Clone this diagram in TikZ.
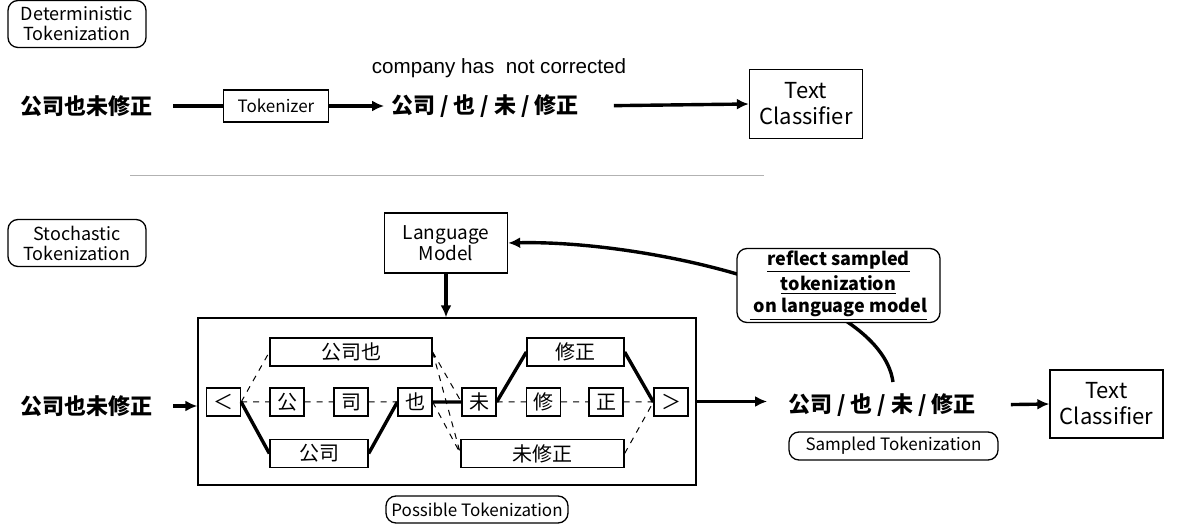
\documentclass[tikz,border=0pt]{standalone}
\usepackage{fontspec}
\setmainfont{Noto Sans CJK JP}
\newfontfamily\glossfont{Liberation Sans}
\usetikzlibrary{positioning,arrows.meta}

\tikzset{
  >={Latex[length=6pt,width=5.5pt]},
  tag/.style={draw, line width=0.65pt, rounded corners=5pt, align=center, inner sep=0pt, font=\fontsize{9}{10}\selectfont},
  box/.style={draw, line width=0.65pt, align=center, inner sep=0pt},
  ch/.style={draw, line width=0.65pt, inner sep=0pt, minimum height=14pt, font=\fontsize{10}{12}\selectfont},
  seq/.style={font=\bfseries\fontsize{11}{13}\selectfont},
  flow/.style={line width=1.7pt},
  best/.style={line width=1.7pt},
  alt/.style={dashed, line width=0.5pt},
}

\begin{document}
\begin{tikzpicture}[x=0.5pt,y=-0.5pt]
    \useasboundingbox (0,0) rectangle (1181,528);

    % fixed split
    \node[tag, minimum width=69pt, minimum height=23.5pt] (det) at (77,24) {Deterministic\\Tokenization};
    \node[seq] (src1) at (86,106) {公司也未修正};
    \node[box, minimum width=52.5pt, minimum height=16pt, font=\fontsize{8.5}{10}\selectfont] (tkz) at (276,106) {Tokenizer};
    \node[seq] (out1) at (485,106) {公司 / 也 / 未 / 修正};
    \node[font=\glossfont\fontsize{10.3}{12}\selectfont] (gloss) at (499,68) {company has\ \ not corrected};
    \node[box, minimum width=56.5pt, minimum height=34.5pt, font=\fontsize{11}{13}\selectfont] (cls1) at (806,104) {Text\\Classifier};

    \draw[flow, shorten <=7pt] (src1.east) -- (tkz.west);
    \draw[flow,->] (tkz.east) -- (out1.west);
    \draw[flow,->, shorten <=14pt] (out1.east) -- (cls1.west);

    \draw[gray!60] (130,175) -- (764,175);

    % sampled split
    \node[tag, minimum width=69pt, minimum height=23.5pt] (sto) at (77,243) {Stochastic\\Tokenization};
    \node[box, minimum width=61.5pt, minimum height=30pt, font=\fontsize{9.5}{10.5}\selectfont] (lm) at (446,243) {Language\\Model};
    \node[box, minimum width=249pt, minimum height=83.5pt] (frame) at (447,401.5) {};

    \foreach \n/\x/\t in {lt/223.5/＜,c1/287/公,c2/351/司,c3/415/也,c4/479/未,c5/543.5/修,c6/606/正,rt/671/＞}
        \node[ch, minimum width=17pt] (\n) at (\x,402) {\t};
    \node[ch, minimum width=81pt] (w1) at (351,352) {公司也};
    \node[ch, minimum width=49pt] (w2) at (319,453.5) {公司};
    \node[ch, minimum width=48.5pt] (w3) at (575.5,352) {修正};
    \node[ch, minimum width=81.5pt] (w4) at (542.5,453.5) {未修正};

    \draw[alt] (lt.east) -- (w1.west) (lt) -- (c1) -- (c2) -- (c3);
    \draw[alt] (w1.east) -- (c4.west) (w1.east) -- (w4.west) (c3.east) -- (w4.west);
    \draw[alt] (c4) -- (c5) -- (c6) -- (rt) (w4.east) -- (rt.west);
    \draw[best] (lt.east) -- (w2.west) (w2.east) -- (c3.west) (c3.east) -- (c4.west)
        (c4.east) -- (w3.west) (w3.east) -- (rt.west);

    \node[seq] (src2) at (86,406) {公司也未修正};
    \node[seq] (out2) at (882,405) {公司 / 也 / 未 / 修正};
    \node[box, minimum width=56.5pt, minimum height=34pt, font=\fontsize{11}{13}\selectfont] (cls2) at (1106.5,404) {Text\\Classifier};
    \node[tag, minimum width=104.5pt, minimum height=14pt, font=\fontsize{8.5}{10}\selectfont] (samp) at (893.5,446) {Sampled Tokenization};
    \node[tag, minimum width=91pt, minimum height=13.5pt, font=\fontsize{8.5}{10}\selectfont] (poss) at (477,509.5) {Possible Tokenization};

    \draw[flow,->] (lm.south) -- (lm.south |- frame.north);
    \draw[flow,->, shorten <=7pt] (src2.east) -- (src2.east -| frame.west);
    \draw[flow,->, shorten >=7pt] (frame.east) -- (frame.east -| out2.west);
    \draw[flow,->, shorten <=14pt] (out2.east) -- (cls2.west);

    % feedback to the model
    \coordinate (cue) at (893,382);
    \draw[flow,->] (cue) .. controls (880,290) and (640,240) .. (lm.east);
    \node[tag, fill=white, minimum width=101.5pt, minimum height=37pt, font=\bfseries\fontsize{9}{11}\selectfont] (note) at (838.5,285.5)
        {\underline{reflect sampled}\\\underline{tokenization}\\\underline{\ on language model}};
\end{tikzpicture}
\end{document}
